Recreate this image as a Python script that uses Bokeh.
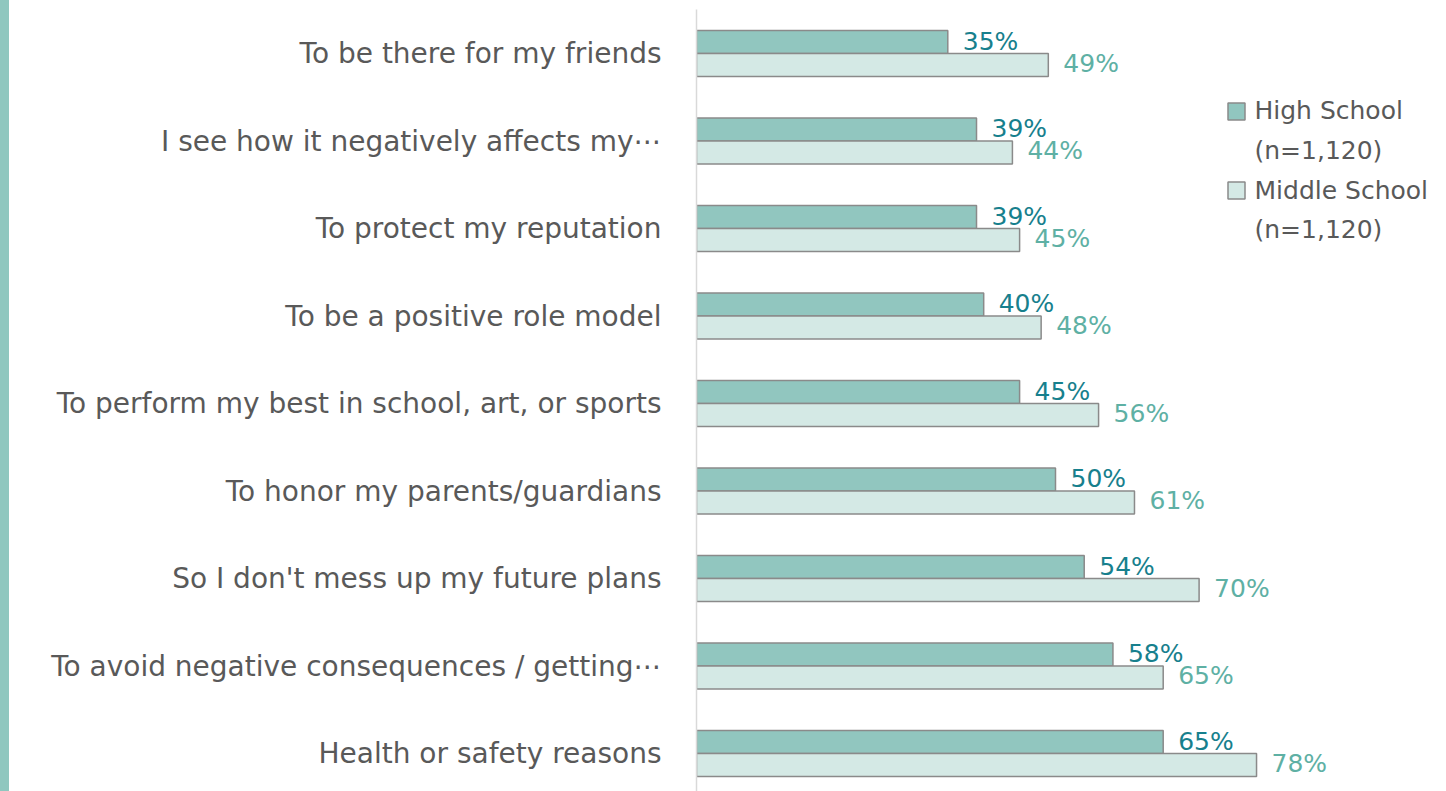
from bokeh.plotting import figure
from bokeh.models import Range1d, FixedTicker
from bokeh.core.properties import value
from bokeh.embed import file_html
from bokeh.resources import INLINE

categories = [
    "To be there for my friends",
    "I see how it negatively affects my\u22ef",
    "To protect my reputation",
    "To be a positive role model",
    "To perform my best in school, art, or sports",
    "To honor my parents/guardians",
    "So I don't mess up my future plans",
    "To avoid negative consequences / getting\u22ef",
    "Health or safety reasons",
]
high_school = [35, 39, 39, 40, 45, 50, 54, 58, 65]
middle_school = [49, 44, 45, 48, 56, 61, 70, 65, 78]
legend_lines = ["High School", "(n=1,120)", "Middle School", "(n=1,120)"]

FONT = "DejaVu Sans"
HS_FILL = "#91C6BF"
MS_FILL = "#D4E9E5"
EDGE = "#8A8A8A"
HS_TXT = "#17808D"
MS_TXT = "#5EB0A4"
GRAY = "#595959"
STRIP = "#8FC7BF"

W, H = 1446, 791
FRAME_LEFT = 696
FRAME_TOP = 9.25
PX_PER_PCT = 7.18
ROW = 87.5

frame_w = W - FRAME_LEFT
frame_h = H - 9
x_end = frame_w / PX_PER_PCT
y_top = -0.5 + (9 - FRAME_TOP) / ROW
y_bottom = y_top + frame_h / ROW

p = figure(width=W, height=H, output_backend="svg", toolbar_location=None,
           x_range=Range1d(0, x_end), y_range=Range1d(y_bottom, y_top),
           min_border_left=FRAME_LEFT, min_border_right=0,
           min_border_top=9, min_border_bottom=0)
p.outline_line_color = None
p.grid.visible = False
p.xaxis.visible = False
p.background_fill_color = "white"
p.border_fill_alpha = 0

n = len(categories)
ys = list(range(n))
off = 11.5 / ROW
bh = 23 / ROW

hs_y = [y - off for y in ys]
ms_y = [y + off for y in ys]

p.hbar(y=hs_y, left=0, right=high_school, height=bh, fill_color=HS_FILL,
       line_color=EDGE, line_width=1.5)
p.hbar(y=ms_y, left=0, right=middle_school, height=bh, fill_color=MS_FILL,
       line_color=EDGE, line_width=1.5)

p.text(x=high_school, y=hs_y, text=[f"{v}%" for v in high_school],
       x_offset=15, y_offset=-1, text_align="left", text_baseline="middle",
       text_font=value(FONT), text_font_size="25px", text_color=HS_TXT)
p.text(x=middle_school, y=ms_y, text=[f"{v}%" for v in middle_school],
       x_offset=15, y_offset=-2, text_align="left", text_baseline="middle",
       text_font=value(FONT), text_font_size="25px", text_color=MS_TXT)

ax = p.yaxis[0]
ax.ticker = FixedTicker(ticks=ys)
ax.major_label_overrides = {i: c for i, c in enumerate(categories)}
ax.major_tick_line_color = None
ax.minor_tick_line_color = None
ax.axis_line_color = "#D9D9D9"
ax.axis_line_width = 1.5
ax.major_label_standoff = 29
ax.major_label_text_font = FONT
ax.major_label_text_font_size = "28px"
ax.major_label_text_color = GRAY

# legend (positions converted from page pixels)
def px_to_x(px):
    return (px - FRAME_LEFT) / PX_PER_PCT

def py_to_y(py):
    return (py - FRAME_TOP) / ROW - 0.5

leg_text_y = [py_to_y(v) for v in (110, 150, 190, 229)]
p.text(x=[px_to_x(1254)] * 4, y=leg_text_y, text=legend_lines,
       text_align="left", text_baseline="middle", text_font=value(FONT),
       text_font_size="25px", text_color=GRAY)
p.rect(x=[px_to_x(1236)] * 2, y=[py_to_y(111), py_to_y(190)], width=17,
       height=17, width_units="screen", height_units="screen",
       fill_color=[HS_FILL, MS_FILL], line_color=EDGE, line_width=1.5)

html = file_html(p, INLINE)
html = html.replace(
    "<head>",
    "<head><style>html{background:linear-gradient(to right,%s 0,%s 9px,#ffffff 9px)}</style>" % (STRIP, STRIP),
    1)
open("out.html", "w").write(html)
